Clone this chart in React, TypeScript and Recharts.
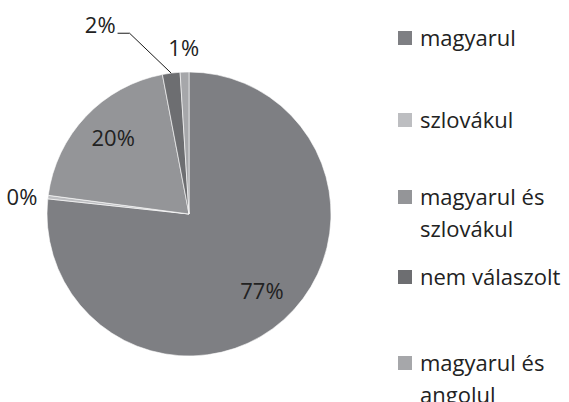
import { Cell, Legend, Pie, PieChart } from "recharts";

const categories = [
  "magyarul",
  "szlovákul",
  "magyarul és szlovákul",
  "nem válaszolt",
  "magyarul és angolul",
];
const values = [76.7, 0.4, 19.9, 2.0, 1.0];
const legendLines = [
  ["magyarul"],
  ["szlovákul"],
  ["magyarul és", "szlovákul"],
  ["nem válaszolt"],
  ["magyarul és", "angolul"],
];
const colors = ["#7e7f83", "#bdbec1", "#949598", "#6d6e71", "#a6a7aa"];

const data = categories.map((name, i) => ({ name, value: values[i] }));

const FONT = "'Open Sans', sans-serif";
const FS = 22;
const RAD = Math.PI / 180;

// label placement per slice: radius factor and angle shift (deg)
const labelPlace: Record<number, { r: number; da: number; leader?: boolean }> = {
  0: { r: 0.74, da: 2 },
  1: { r: 1.04, da: 0 },
  2: { r: 0.76, da: -2 },
  3: { r: 1.49, da: 20, leader: true },
  4: { r: 1.18, da: 0 },
};

function renderLabel(props: any) {
  const { cx, cy, midAngle, outerRadius, percent, index } = props;
  const p = labelPlace[index];
  const a = midAngle + p.da;
  const r = outerRadius * p.r;
  let x = cx + r * Math.cos(-a * RAD);
  const y = cy + r * Math.sin(-a * RAD);
  let anchor: "middle" | "end" = "middle";
  if (index === 1) {
    anchor = "end";
    x -= 5;
  }
  const text = `${Math.round(percent * 100)}%`;
  if (p.leader) {
    const sx = cx + outerRadius * Math.cos(-midAngle * RAD);
    const sy = cy + outerRadius * Math.sin(-midAngle * RAD);
    const ex = cx + outerRadius * 1.34 * Math.cos(-(midAngle + 11) * RAD);
    const ey = cy + outerRadius * 1.34 * Math.sin(-(midAngle + 11) * RAD);
    return (
      <g>
        <polyline
          points={`${sx},${sy} ${ex},${ey} ${ex - 12},${ey}`}
          fill="none"
          stroke="#1a1a1a"
          strokeWidth={1}
        />
        <text x={ex - 14} y={ey - 9} textAnchor="end" dominantBaseline="central" fill="#222" fontSize={FS} fontFamily={FONT}>
          {text}
        </text>
      </g>
    );
  }
  return (
    <text x={x} y={y} textAnchor={anchor} dominantBaseline="central" fill="#222" fontSize={FS} fontFamily={FONT}>
      {text}
    </text>
  );
}

const rowTops = [21, 103, 180, 260, 346];

function renderLegend() {
  return (
    <div style={{ position: "relative", width: 170, height: 402, fontFamily: FONT }}>
      {legendLines.map((lines, i) => (
        <div key={i} style={{ position: "absolute", left: 0, top: rowTops[i], display: "flex" }}>
          <div style={{ width: 14, height: 14, background: colors[i], marginTop: 10, marginRight: 8 }} />
          <div style={{ fontSize: FS, lineHeight: "32px", color: "#222", whiteSpace: "nowrap" }}>
            {lines.map((l) => (
              <div key={l}>{l}</div>
            ))}
          </div>
        </div>
      ))}
    </div>
  );
}

export default function App() {
  return (
    <div style={{ position: "absolute", left: 0, top: 0, background: "#fff" }}>
      <PieChart width={569} height={402} margin={{ top: 0, right: 0, bottom: 0, left: 0 }}>
        <Pie
          data={data}
          dataKey="value"
          nameKey="name"
          cx={189}
          cy={214}
          outerRadius={142}
          startAngle={90}
          endAngle={-270}
          stroke="#ffffff"
          strokeWidth={0.6}
          label={renderLabel}
          labelLine={false}
          isAnimationActive={false}
        >
          {data.map((d, i) => (
            <Cell key={d.name} fill={colors[i]} />
          ))}
        </Pie>
        <Legend
          layout="vertical"
          align="right"
          verticalAlign="top"
          content={renderLegend}
          wrapperStyle={{ left: 398, top: 0, width: 170 }}
        />
      </PieChart>
    </div>
  );
}
